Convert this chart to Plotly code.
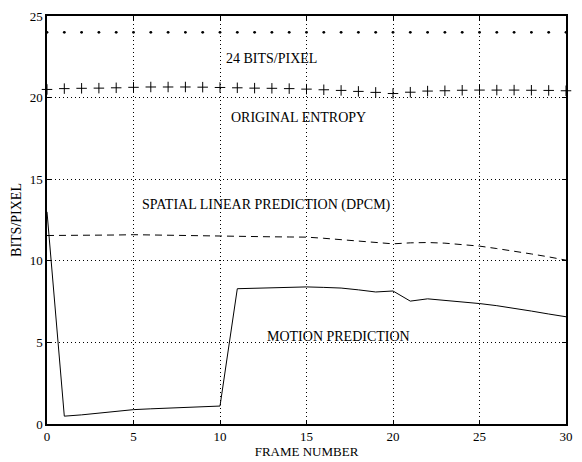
import plotly.graph_objects as go

frames = list(range(31))
bits24 = [24] * 31
entropy = [20.5, 20.55, 20.57, 20.58, 20.6, 20.63, 20.65, 20.65, 20.65, 20.64, 20.62,
           20.6, 20.58, 20.57, 20.55, 20.52, 20.48, 20.44, 20.38, 20.32, 20.25,
           20.33, 20.4, 20.42, 20.45, 20.46, 20.46, 20.46, 20.45, 20.44, 20.42]
dpcm = [11.55, 11.55, 11.56, 11.57, 11.58, 11.6, 11.58, 11.56, 11.54, 11.52, 11.49,
        11.48, 11.47, 11.47, 11.46, 11.45, 11.38, 11.3, 11.2, 11.1, 11.04,
        11.1, 11.12, 11.08, 11.0, 10.9, 10.75, 10.6, 10.42, 10.24, 10.04]
motion = [13.0, 0.48, 0.56, 0.68, 0.8, 0.88, 0.93, 0.98, 1.03, 1.08, 1.1,
          8.29, 8.32, 8.36, 8.4, 8.4, 8.37, 8.33, 8.22, 8.09, 8.15,
          7.53, 7.67, 7.58, 7.48, 7.38, 7.25, 7.1, 6.92, 6.74, 6.57]

labels = ["24 BITS/PIXEL", "ORIGINAL ENTROPY", "SPATIAL LINEAR PREDICTION (DPCM)", "MOTION PREDICTION"]
label_x = [12.95, 14.54, 12.66, 16.85]
label_y = [22.37, 18.78, 13.45, 5.34]

FONT = "Liberation Serif"

fig = go.Figure()
fig.add_trace(go.Scatter(x=frames, y=bits24, mode="markers",
                         marker=dict(symbol="circle", size=2.8, color="black"),
                         cliponaxis=False))
fig.add_trace(go.Scatter(x=frames, y=entropy, mode="markers",
                         marker=dict(symbol="cross-thin", size=7.5,
                                     line=dict(width=1, color="black")),
                         cliponaxis=False))
fig.add_trace(go.Scatter(x=frames, y=dpcm, mode="lines",
                         line=dict(color="black", width=1, dash="7px,5px")))
fig.add_trace(go.Scatter(x=frames, y=motion, mode="lines",
                         line=dict(color="black", width=1)))

for t, x, y in zip(labels, label_x, label_y):
    fig.add_annotation(x=x, y=y, text=t, showarrow=False,
                       font=dict(family=FONT, size=14, color="black"))

axis_common = dict(showline=True, linecolor="black", linewidth=1.5, mirror="ticks",
                   ticks="inside", ticklen=4, tickcolor="black",
                   showgrid=True, gridcolor="black", griddash="1px,3px", gridwidth=1,
                   zeroline=False, tickfont=dict(family=FONT, size=13, color="black"))

fig.update_layout(
    width=582, height=462,
    margin=dict(l=47, r=9, t=14, b=32),
    paper_bgcolor="white", plot_bgcolor="white",
    showlegend=False,
    font=dict(family=FONT, color="black"),
    xaxis=dict(range=[0, 30], tickvals=[0, 5, 10, 15, 20, 25, 30],
               title=dict(text="FRAME NUMBER", font=dict(family=FONT, size=13), standoff=0),
               **axis_common),
    yaxis=dict(range=[0, 25], tickvals=[0, 5, 10, 15, 20, 25],
               title=dict(text="BITS/PIXEL", font=dict(family=FONT, size=14), standoff=5),
               **axis_common),
)

fig.write_html("out.html", config={"displayModeBar": False},
               post_script="document.body.style.margin='0';")
